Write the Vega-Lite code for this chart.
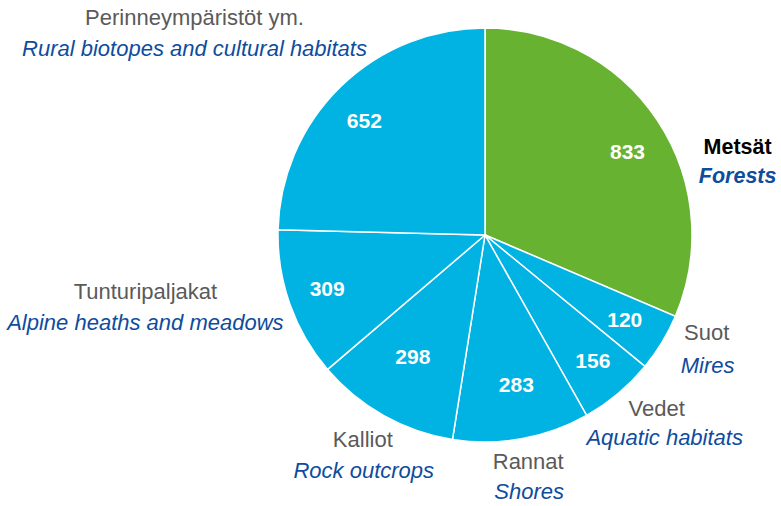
{
  "$schema": "https://vega.github.io/schema/vega-lite/v6.json",
  "autosize": {"type": "none"},
  "width": 414,
  "height": 414,
  "padding": {"left": 278, "top": 28, "right": 89, "bottom": 64},
  "background": "white",
  "config": {"view": {"stroke": null}, "text": {"font": "Liberation Sans"}},
  "data": {
    "values": [
      {"idx": 1, "fi": "Metsät", "en": "Forests", "value": 833},
      {"idx": 2, "fi": "Suot", "en": "Mires", "value": 120},
      {"idx": 3, "fi": "Vedet", "en": "Aquatic habitats", "value": 156},
      {"idx": 4, "fi": "Rannat", "en": "Shores", "value": 283},
      {"idx": 5, "fi": "Kalliot", "en": "Rock outcrops", "value": 298},
      {"idx": 6, "fi": "Tunturipaljakat", "en": "Alpine heaths and meadows", "value": 309},
      {"idx": 7, "fi": "Perinneympäristöt ym.", "en": "Rural biotopes and cultural habitats", "value": 652}
    ]
  },
  "encoding": {
    "theta": {"field": "value", "type": "quantitative", "stack": true},
    "order": {"field": "idx", "type": "quantitative"}
  },
  "layer": [
    {
      "mark": {"type": "arc", "stroke": "white", "strokeWidth": 1.5},
      "encoding": {
        "color": {
          "field": "fi", "type": "nominal", "legend": null,
          "scale": {
            "domain": ["Metsät", "Suot", "Vedet", "Rannat", "Kalliot", "Tunturipaljakat", "Perinneympäristöt ym."],
            "range": ["#67B331", "#00B3E3", "#00B3E3", "#00B3E3", "#00B3E3", "#00B3E3", "#00B3E3"]
          }
        }
      }
    },
    {
      "mark": {"type": "text", "radius": 160, "dx": 9, "dy": 6, "fontSize": 21, "fontWeight": "bold", "color": "white", "baseline": "middle", "align": "center"},
      "encoding": {"text": {"condition": {"test": "datum.idx == 1", "field": "value"}, "value": ""}}
    },
    {
      "mark": {"type": "text", "radius": 160, "dx": 3, "dy": 3, "fontSize": 21, "fontWeight": "bold", "color": "white", "baseline": "middle", "align": "center"},
      "encoding": {"text": {"condition": {"test": "datum.idx == 2", "field": "value"}, "value": ""}}
    },
    {
      "mark": {"type": "text", "radius": 160, "dx": 5, "dy": 4, "fontSize": 21, "fontWeight": "bold", "color": "white", "baseline": "middle", "align": "center"},
      "encoding": {"text": {"condition": {"test": "datum.idx == 3", "field": "value"}, "value": ""}}
    },
    {
      "mark": {"type": "text", "radius": 160, "dx": 3, "dy": -6, "fontSize": 21, "fontWeight": "bold", "color": "white", "baseline": "middle", "align": "center"},
      "encoding": {"text": {"condition": {"test": "datum.idx == 4", "field": "value"}, "value": ""}}
    },
    {
      "mark": {"type": "text", "radius": 160, "dx": 6, "dy": -17, "fontSize": 21, "fontWeight": "bold", "color": "white", "baseline": "middle", "align": "center"},
      "encoding": {"text": {"condition": {"test": "datum.idx == 5", "field": "value"}, "value": ""}}
    },
    {
      "mark": {"type": "text", "radius": 160, "dx": -7, "dy": 2, "fontSize": 21, "fontWeight": "bold", "color": "white", "baseline": "middle", "align": "center"},
      "encoding": {"text": {"condition": {"test": "datum.idx == 6", "field": "value"}, "value": ""}}
    },
    {
      "mark": {"type": "text", "radius": 160, "dx": -9, "dy": 2, "fontSize": 21, "fontWeight": "bold", "color": "white", "baseline": "middle", "align": "center"},
      "encoding": {"text": {"condition": {"test": "datum.idx == 7", "field": "value"}, "value": ""}}
    },
    {
      "mark": {"type": "text", "radius": 250, "dx": 44, "dy": 51, "fontSize": 21.5, "fontWeight": "bold", "color": "#000000", "baseline": "middle", "align": "center"},
      "encoding": {"text": {"condition": {"test": "datum.idx == 1", "field": "fi"}, "value": ""}}
    },
    {
      "mark": {"type": "text", "radius": 250, "dx": 44, "dy": 80, "fontSize": 21.5, "fontWeight": "bold", "fontStyle": "italic", "color": "#0E4C9E", "baseline": "middle", "align": "center"},
      "encoding": {"text": {"condition": {"test": "datum.idx == 1", "field": "en"}, "value": ""}}
    },
    {
      "mark": {"type": "text", "radius": 250, "dx": 8, "dy": -32, "fontSize": 22, "color": "#5A5A5A", "baseline": "middle", "align": "center"},
      "encoding": {"text": {"condition": {"test": "datum.idx == 2", "field": "fi"}, "value": ""}}
    },
    {
      "mark": {"type": "text", "radius": 250, "dx": 9, "dy": 1, "fontSize": 22, "fontStyle": "italic", "color": "#0E4C9E", "baseline": "middle", "align": "center"},
      "encoding": {"text": {"condition": {"test": "datum.idx == 2", "field": "en"}, "value": ""}}
    },
    {
      "mark": {"type": "text", "radius": 250, "dx": 11, "dy": -18, "fontSize": 22, "color": "#5A5A5A", "baseline": "middle", "align": "center"},
      "encoding": {"text": {"condition": {"test": "datum.idx == 3", "field": "fi"}, "value": ""}}
    },
    {
      "mark": {"type": "text", "radius": 250, "dx": 19, "dy": 11, "fontSize": 22, "fontStyle": "italic", "color": "#0E4C9E", "baseline": "middle", "align": "center"},
      "encoding": {"text": {"condition": {"test": "datum.idx == 3", "field": "en"}, "value": ""}}
    },
    {
      "mark": {"type": "text", "radius": 250, "dx": -1, "dy": -19, "fontSize": 22, "color": "#5A5A5A", "baseline": "middle", "align": "center"},
      "encoding": {"text": {"condition": {"test": "datum.idx == 4", "field": "fi"}, "value": ""}}
    },
    {
      "mark": {"type": "text", "radius": 250, "dx": 0, "dy": 11, "fontSize": 22, "fontStyle": "italic", "color": "#0E4C9E", "baseline": "middle", "align": "center"},
      "encoding": {"text": {"condition": {"test": "datum.idx == 4", "field": "en"}, "value": ""}}
    },
    {
      "mark": {"type": "text", "radius": 250, "dx": 0, "dy": -13, "fontSize": 22, "color": "#5A5A5A", "baseline": "middle", "align": "center"},
      "encoding": {"text": {"condition": {"test": "datum.idx == 5", "field": "fi"}, "value": ""}}
    },
    {
      "mark": {"type": "text", "radius": 250, "dx": 1, "dy": 18, "fontSize": 22, "fontStyle": "italic", "color": "#0E4C9E", "baseline": "middle", "align": "center"},
      "encoding": {"text": {"condition": {"test": "datum.idx == 5", "field": "en"}, "value": ""}}
    },
    {
      "mark": {"type": "text", "radius": 250, "dx": -104, "dy": -27, "fontSize": 22, "color": "#5A5A5A", "baseline": "middle", "align": "center"},
      "encoding": {"text": {"condition": {"test": "datum.idx == 6", "field": "fi"}, "value": ""}}
    },
    {
      "mark": {"type": "text", "radius": 250, "dx": -104, "dy": 4, "fontSize": 22, "fontStyle": "italic", "color": "#0E4C9E", "baseline": "middle", "align": "center"},
      "encoding": {"text": {"condition": {"test": "datum.idx == 6", "field": "en"}, "value": ""}}
    },
    {
      "mark": {"type": "text", "radius": 250, "dx": -116, "dy": -38, "fontSize": 22, "color": "#5A5A5A", "baseline": "middle", "align": "center"},
      "encoding": {"text": {"condition": {"test": "datum.idx == 7", "field": "fi"}, "value": ""}}
    },
    {
      "mark": {"type": "text", "radius": 250, "dx": -116, "dy": -7, "fontSize": 22, "fontStyle": "italic", "color": "#0E4C9E", "baseline": "middle", "align": "center"},
      "encoding": {"text": {"condition": {"test": "datum.idx == 7", "field": "en"}, "value": ""}}
    }
  ]
}
